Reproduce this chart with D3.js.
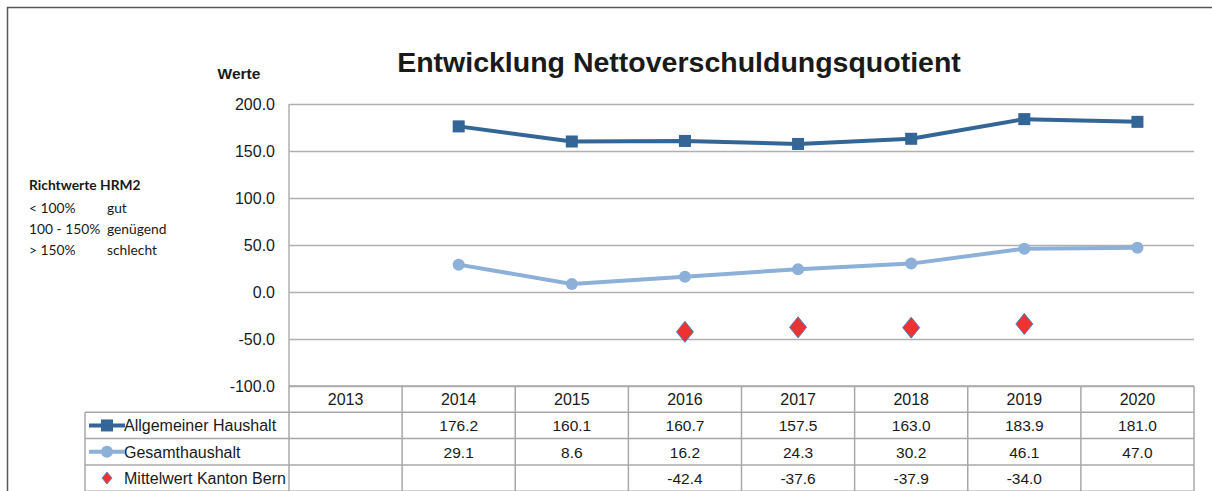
<!DOCTYPE html>
<html lang="de">
<head>
<meta charset="utf-8">
<script src="https://d3js.org/d3.v7.min.js"></script>
<style>
  body { margin: 0; background: #fff; }
  svg text { font-family: "Liberation Sans", Arial, sans-serif; fill: #1a1a1a; }
  .note text { font-family: Lato, "Open Sans", sans-serif; font-size: 13.8px; }
</style>
</head>
<body>
<div id="chart"></div>
<script>
const years = ['2013', '2014', '2015', '2016', '2017', '2018', '2019', '2020'];
const allgemein = [null, 176.2, 160.1, 160.7, 157.5, 163.0, 183.9, 181.0];
const gesamt = [null, 29.1, 8.6, 16.2, 24.3, 30.2, 46.1, 47.0];
const mittelwert = [null, null, null, -42.4, -37.6, -37.9, -34.0, null];
const yTicks = [200, 150, 100, 50, 0, -50, -100];
const seriesNames = ['Allgemeiner Haushalt', 'Gesamthaushalt', 'Mittelwert Kanton Bern'];
const richtwerte = [['< 100%', 'gut'], ['100 - 150%', 'genügend'], ['> 150%', 'schlecht']];

const W = 1212, H = 491;
const plot = { left: 289, right: 1194, top: 104, bottom: 386 };
const rowH = 26.3;
const legendLeft = 85;
const fmt = v => v.toFixed(1);

const svg = d3.select('#chart').append('svg').attr('width', W).attr('height', H);

// outer frame
svg.append('path').attr('d', `M7.5,${H}V7.5H${W}`)
  .attr('fill', 'none').attr('stroke', '#555').attr('stroke-width', 1.5);

const x = d3.scaleBand().domain(years).range([plot.left, plot.right]);
const y = d3.scaleLinear().domain([-100, 200]).range([plot.bottom, plot.top]);
const cx = yr => x(yr) + x.bandwidth() / 2;

// title
svg.append('text').attr('x', 679).attr('y', 72).attr('text-anchor', 'middle')
  .style('font-size', '28.5px').style('font-weight', 'bold')
  .text('Entwicklung Nettoverschuldungsquotient');
svg.append('text').attr('x', 239).attr('y', 79).attr('text-anchor', 'middle')
  .style('font-size', '15.5px').style('font-weight', 'bold').text('Werte');

// gridlines + y axis
const yAxis = d3.axisLeft(y).tickValues(yTicks).tickFormat(fmt)
  .tickSize(-(plot.right - plot.left)).tickPadding(14);
const yg = svg.append('g').attr('transform', `translate(${plot.left},0)`).call(yAxis);
yg.select('.domain').remove();
yg.selectAll('.tick line').attr('stroke', '#b0b0b0').attr('stroke-width', 1.5);
yg.selectAll('.tick text').style('font-size', '16px').attr('fill', '#1a1a1a')
  .style('font-family', '"Liberation Sans", Arial, sans-serif');
svg.append('line').attr('x1', plot.left).attr('x2', plot.left)
  .attr('y1', plot.top).attr('y2', plot.bottom)
  .attr('stroke', '#b0b0b0').attr('stroke-width', 1.5);

// left note
const note = svg.append('g').attr('class', 'note');
note.append('text').attr('x', 29).attr('y', 190).style('font-weight', 'bold').text('Richtwerte HRM2');
richtwerte.forEach((r, i) => {
  note.append('text').attr('x', 29).attr('y', 213 + i * 21.2).text(r[0]);
  note.append('text').attr('x', 107).attr('y', 213 + i * 21.2).text(r[1]);
});

// lines
const c1 = '#336596', c2 = '#8db0d8';
const line = d3.line().defined(d => d[1] != null).x(d => cx(d[0])).y(d => y(d[1]));
const pts = arr => years.map((yr, i) => [yr, arr[i]]);

svg.append('path').datum(pts(gesamt)).attr('d', line)
  .attr('fill', 'none').attr('stroke', c2).attr('stroke-width', 4);
svg.selectAll('.circ').data(pts(gesamt).filter(d => d[1] != null)).enter()
  .append('circle').attr('cx', d => cx(d[0])).attr('cy', d => y(d[1])).attr('r', 6).attr('fill', c2);

svg.append('path').datum(pts(allgemein)).attr('d', line)
  .attr('fill', 'none').attr('stroke', c1).attr('stroke-width', 4);
svg.selectAll('.sq').data(pts(allgemein).filter(d => d[1] != null)).enter()
  .append('rect').attr('x', d => cx(d[0]) - 6).attr('y', d => y(d[1]) - 6)
  .attr('width', 12).attr('height', 12).attr('fill', c1);

const diamond = (px, py, w, h) => `M${px},${py - h}L${px + w},${py}L${px},${py + h}L${px - w},${py}Z`;
svg.selectAll('.dia').data(pts(mittelwert).filter(d => d[1] != null)).enter()
  .append('path').attr('d', d => diamond(cx(d[0]), y(d[1]), 8.5, 10.5))
  .attr('fill', '#ee3131').attr('stroke', '#4f7fc0').attr('stroke-width', 1);

// data table
const tbl = svg.append('g');
const gridC = '#a8a8a8';
const tTop = plot.bottom;
const rows = [allgemein, gesamt, mittelwert];
tbl.append('line').attr('x1', plot.left).attr('x2', plot.right).attr('y1', tTop).attr('y2', tTop)
  .attr('stroke', gridC).attr('stroke-width', 1.5);
for (let r = 1; r <= 4; r++) {
  const yy = tTop + r * rowH;
  tbl.append('line').attr('x1', legendLeft).attr('x2', plot.right).attr('y1', yy).attr('y2', yy)
    .attr('stroke', gridC).attr('stroke-width', 1.5);
}
years.forEach(yr => {
  tbl.append('line').attr('x1', x(yr)).attr('x2', x(yr)).attr('y1', tTop).attr('y2', H)
    .attr('stroke', gridC).attr('stroke-width', 1.5);
});
[legendLeft, plot.right].forEach(xx => {
  tbl.append('line').attr('x1', xx).attr('x2', xx)
    .attr('y1', xx === legendLeft ? tTop + rowH : tTop).attr('y2', H)
    .attr('stroke', gridC).attr('stroke-width', 1.5);
});
years.forEach(yr => {
  tbl.append('text').attr('x', cx(yr)).attr('y', tTop + rowH / 2 + 6).attr('text-anchor', 'middle')
    .style('font-size', '16px').text(yr);
});
rows.forEach((arr, r) => {
  const yy = tTop + (r + 1) * rowH + rowH / 2 + 6;
  arr.forEach((v, i) => {
    if (v == null) return;
    tbl.append('text').attr('x', cx(years[i])).attr('y', yy).attr('text-anchor', 'middle')
      .style('font-size', '15.5px').text(fmt(v));
  });
  tbl.append('text').attr('x', 124).attr('y', yy).style('font-size', '16px').text(seriesNames[r]);
});
// legend keys
const k1 = tTop + 1.5 * rowH, k2 = tTop + 2.5 * rowH, k3 = tTop + 3.5 * rowH;
tbl.append('line').attr('x1', 89).attr('x2', 125).attr('y1', k1).attr('y2', k1).attr('stroke', c1).attr('stroke-width', 4);
tbl.append('rect').attr('x', 101).attr('y', k1 - 6).attr('width', 12).attr('height', 12).attr('fill', c1);
tbl.append('line').attr('x1', 89).attr('x2', 125).attr('y1', k2).attr('y2', k2).attr('stroke', c2).attr('stroke-width', 4);
tbl.append('circle').attr('cx', 107).attr('cy', k2).attr('r', 6).attr('fill', c2);
tbl.append('path').attr('d', diamond(107, k3, 5, 6)).attr('fill', '#ee3131').attr('stroke', '#4f7fc0').attr('stroke-width', 0.8);
</script>
</body>
</html>
